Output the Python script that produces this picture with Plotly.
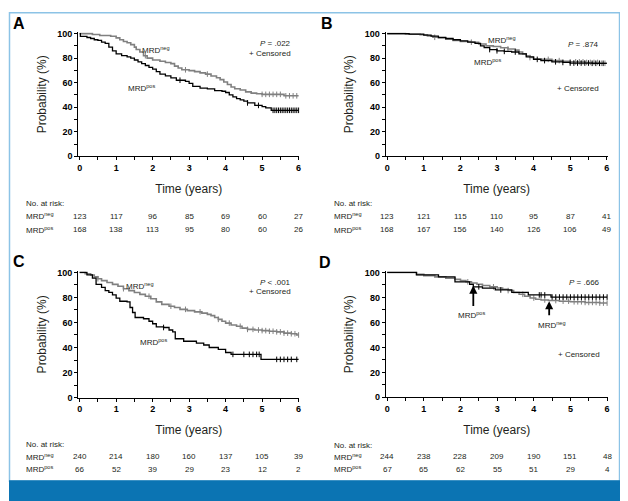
import plotly.graph_objects as go
import numpy as np

## the page puts the figure 8px in from the top left corner, so draw at 620x493 and shift
OFF = 8
W, H = 628 - OFF, 501 - OFF
FONT = "Arial, Liberation Sans, sans-serif"
GRAY = "#808080"
INK = "#231f20"

## Kaplan-Meier step data: (time in years, survival %)
a_neg_t = [0, 0.35, 0.55, 0.85, 1.0, 1.1, 1.2, 1.3, 1.4, 1.5, 1.55, 1.65, 1.75, 1.85, 2.0, 2.2, 2.35,
           2.5, 2.6, 2.7, 2.8, 3.0, 3.15, 3.3, 3.45, 3.6, 3.75, 3.85, 3.95, 4.05, 4.15, 4.25, 4.4,
           4.55, 4.7, 4.85, 5.0, 5.6]
a_neg_s = [100, 99.3, 98.5, 97.8, 96.5, 95, 93.5, 92.5, 91, 89, 87, 85, 82, 80, 78.5, 77.5, 76.5,
           75.5, 73.5, 72, 70.5, 69.8, 69, 68, 67, 65.5, 64, 62.5, 60.5, 58.5, 56.5, 55, 54,
           52.5, 51.5, 51, 50.5, 49.3]
a_pos_t = [0, 0.02, 0.2, 0.3, 0.4, 0.5, 0.6, 0.7, 0.8, 0.9, 1.0, 1.15, 1.3, 1.4, 1.5, 1.6, 1.7, 1.8,
           1.9, 2.0, 2.1, 2.2, 2.35, 2.5, 2.65, 2.9, 3.0, 3.1, 3.3, 3.5, 3.7, 3.9, 4.0, 4.1, 4.2,
           4.3, 4.4, 4.5, 4.6, 4.8, 5.0, 5.1, 5.25]
a_pos_s = [100, 97.8, 96.8, 96, 95, 94.5, 93, 92, 89, 86, 83.5, 82, 81, 80, 78.5, 77, 75.5, 74,
           72.5, 71, 69, 67, 65.5, 64, 62, 61, 59.5, 57, 55.5, 55, 53.5, 53, 52, 50, 48.5,
           47, 46, 45, 43.5, 41.5, 40.5, 39.5, 37.5]
a_neg_cens = [1.8, 2.9, 3.5, 5.0, 5.1, 5.2, 5.3, 5.4, 5.5, 5.65, 5.75, 5.85, 5.95]
a_pos_cens = [2.75, 4.6, 4.9, 5.3, 5.35, 5.4, 5.45, 5.5, 5.55, 5.6, 5.65, 5.7, 5.75, 5.8, 5.85,
              5.9, 5.95, 6.0]

b_neg_t = [0, 0.5, 0.9, 1.1, 1.25, 1.4, 1.6, 1.8, 2.0, 2.3, 2.5, 2.7, 2.9, 3.1, 3.3, 3.5, 3.6,
           3.7, 3.8, 3.9, 4.0, 4.2, 4.5, 4.8, 5.0, 5.4, 5.8]
b_neg_s = [100, 99.5, 99, 98, 97, 96.5, 95.5, 94.5, 93.5, 93, 91.5, 90, 89.5, 88.5, 87.5, 86.5,
           85, 83.5, 82, 80.5, 79.5, 79, 78, 77.5, 77, 76.5, 75.8]
b_pos_t = [0, 0.6, 1.0, 1.2, 1.4, 1.6, 1.8, 2.0, 2.2, 2.4, 2.55, 2.65, 2.8, 3.0, 3.2, 3.4, 3.6,
           3.8, 4.0, 4.2, 4.5, 4.8, 5.0, 5.6]
b_pos_s = [100, 99.5, 98.8, 98, 97, 96, 95, 94, 93, 92, 90, 88.5, 87, 86, 85.5, 85, 83.5, 81,
           79, 78, 77, 76.5, 76, 75.8]
b_neg_cens = [1.3, 2.3, 3.3, 3.9, 4.4, 4.7, 5.0, 5.15, 5.25, 5.35, 5.45, 5.55, 5.65, 5.75, 5.85,
              5.95]
b_pos_cens = [2.8, 3.0, 3.2, 3.5, 4.1, 4.3, 4.6, 4.8, 5.0, 5.1, 5.2, 5.3, 5.4, 5.5, 5.6, 5.7,
              5.8, 5.9]

c_neg_t = [0, 0.15, 0.3, 0.4, 0.5, 0.6, 0.75, 0.9, 1.05, 1.2, 1.35, 1.5, 1.65, 1.8, 1.95, 2.1,
           2.25, 2.45, 2.6, 2.75, 2.95, 3.15, 3.35, 3.5, 3.6, 3.7, 3.8, 3.9, 4.0, 4.15, 4.3, 4.45,
           4.6, 4.8, 5.0, 5.2, 5.4, 5.6, 5.8, 5.95]
c_neg_s = [100, 99, 98, 96.5, 95, 93.5, 92, 90.5, 89, 87, 85.5, 84, 82.5, 81, 79, 76.5, 74.5,
           73, 72, 70.5, 69.5, 68.5, 67.5, 66.5, 65.5, 64, 62.5, 61, 59.5, 58, 57, 55.5, 54.5,
           54, 53.5, 53, 52.5, 51.5, 51, 50]
c_pos_t = [0, 0.2, 0.35, 0.45, 0.6, 0.7, 0.8, 0.9, 1.0, 1.1, 1.3, 1.38, 1.45, 1.52, 1.75, 1.9,
           2.0, 2.1, 2.3, 2.45, 2.55, 2.62, 2.85, 3.2, 3.4, 3.55, 3.8, 4.0, 4.15, 4.97]
c_pos_s = [100, 98, 95.5, 90.5, 88, 85.5, 84, 82, 79.5, 77, 76.5, 72, 68, 64, 63, 61, 59, 56.5,
           56, 54, 52.5, 47, 45, 43.5, 42, 40, 38.5, 36, 34.5, 30.5]
c_neg_cens = [0.5, 1.2, 1.9, 2.5, 2.9, 3.3, 3.8, 4.1, 4.4, 4.6, 4.75, 4.9, 5.0, 5.1, 5.2, 5.3,
              5.4, 5.5, 5.6, 5.7, 5.8, 5.9, 6.0]
c_pos_cens = [2.3, 4.2, 4.5, 4.65, 4.75, 4.85, 4.92, 5.4, 5.5, 5.6, 5.7, 5.8, 5.95]

d_neg_t = [0, 0.8, 1.0, 1.3, 1.6, 1.85, 2.0, 2.15, 2.3, 2.45, 2.6, 2.8, 3.0, 3.15, 3.3, 3.45,
           3.6, 3.75, 3.9, 4.05, 4.2, 4.4, 4.7, 5.0, 5.4, 5.8]
d_neg_s = [100, 98.5, 97.5, 96.5, 95.5, 94.5, 93.5, 92.5, 91.5, 90.5, 89.5, 88.5, 87.5, 86.5,
           85.5, 84, 82.5, 81, 79.5, 78.5, 78, 77.5, 77, 76.5, 76, 75.5]
d_pos_t = [0, 0.8, 1.4, 1.85, 2.25, 2.35, 2.6, 2.95, 3.4, 3.85, 4.47]
d_pos_s = [100, 98, 96.5, 92.5, 90.5, 88.5, 87.5, 86, 84, 82, 80.3]
d_neg_cens = [2.2, 2.9, 3.3, 3.7, 4.0, 4.3, 4.6, 4.8, 4.95, 5.1, 5.2, 5.3, 5.4, 5.5, 5.6, 5.7,
              5.8, 5.9, 6.0]
d_pos_cens = [2.5, 3.1, 4.15, 4.2, 4.3, 4.5, 4.6, 4.7, 4.8, 4.9, 5.0, 5.1, 5.2, 5.3, 5.4, 5.5,
              5.6, 5.7, 5.8, 5.9, 6.0]

## Numbers at risk
risk_times = [0, 1, 2, 3, 4, 5, 6]
a_risk_neg = [123, 117, 96, 85, 69, 60, 27]
a_risk_pos = [168, 138, 113, 95, 80, 60, 26]
b_risk_neg = [123, 121, 115, 110, 95, 87, 41]
b_risk_pos = [168, 167, 156, 140, 126, 106, 49]
c_risk_neg = [240, 214, 180, 160, 137, 105, 39]
c_risk_pos = [66, 52, 39, 29, 23, 12, 2]
d_risk_neg = [244, 238, 228, 209, 190, 151, 48]
d_risk_pos = [67, 65, 62, 55, 51, 29, 4]

p_texts = ["<i>P</i> = .022", "<i>P</i> = .874", "<i>P</i> < .001", "<i>P</i> = .666"]

panels = [
    dict(letter="A", neg=(a_neg_t, a_neg_s, a_neg_cens), pos=(a_pos_t, a_pos_s, a_pos_cens),
         risk=(a_risk_neg, a_risk_pos), p=p_texts[0],
         px=(79, 299), py=(155, 30), rows=(203, 216, 230), lab_x=23, let=(18, 20),
         neg_lab=(2.1, 87), pos_lab=(1.7, 56), p_y=92, cens_y=84),
    dict(letter="B", neg=(b_neg_t, b_neg_s, b_neg_cens), pos=(b_pos_t, b_pos_s, b_pos_cens),
         risk=(b_risk_neg, b_risk_pos), p=p_texts[1],
         px=(388, 608.7), py=(155, 30), rows=(203, 216, 230), lab_x=333, let=(328, 20),
         neg_lab=(3.15, 95), pos_lab=(2.75, 77), p_y=91, cens_y=55),
    dict(letter="C", neg=(c_neg_t, c_neg_s, c_neg_cens), pos=(c_pos_t, c_pos_s, c_pos_cens),
         risk=(c_risk_neg, c_risk_pos), p=p_texts[2],
         px=(79, 299), py=(400.7, 273.3), rows=(449, 461, 474), lab_x=23, let=(18, 262),
         neg_lab=(1.66, 89.5), pos_lab=(2.02, 44.5), p_y=92, cens_y=85),
    dict(letter="D", neg=(d_neg_t, d_neg_s, d_neg_cens), pos=(d_pos_t, d_pos_s, d_pos_cens),
         risk=(d_risk_neg, d_risk_pos), p=p_texts[3],
         px=(388, 609), py=(400.5, 273.3), rows=(450, 461, 474), lab_x=333, let=(326, 263),
         neg_lab=None, pos_lab=None, p_y=92, cens_y=34),
]

X_RANGE = [-0.04, 6.02]
Y_RANGE = [0, 101]


def pxx(x):
    return (x - OFF) / W


def pxy(y):
    return 1 - (y - OFF) / H


def step_value(times, surv, t):
    i = np.searchsorted(np.array(times), t, side="right") - 1
    return surv[max(i, 0)]


fig = go.Figure()
annotations = []
shapes = []


def note(text, x, y, xref, yref, xanchor="center", size=8):
    annotations.append(dict(text=text, x=x, y=y, xref=xref, yref=yref, xanchor=xanchor, yanchor="middle",
                            showarrow=False, font=dict(family=FONT, size=size, color=INK)))


for k, pn in enumerate(panels):
    n = "" if k == 0 else str(k + 1)
    xa, ya = "x" + n, "y" + n
    x0, x6 = pn["px"]
    yb, yt = pn["py"]
    ppy = (x6 - x0) / 6.0
    ppu = (yb - yt) / 100.0
    xdom = [pxx(x0 + X_RANGE[0] * ppy), pxx(x6 + (X_RANGE[1] - 6) * ppy)]
    ydom = [pxy(yb), pxy(yb - Y_RANGE[1] * ppu)]

    for key, col, width in [("neg", GRAY, 1.6), ("pos", "black", 1.3)]:
        t, s, cens = pn[key]
        tt = list(t) + [6.0]
        ss = list(s) + [s[-1]]
        fig.add_trace(go.Scatter(x=tt, y=ss, mode="lines", line=dict(color=col, width=width, shape="hv"),
                                 xaxis=xa, yaxis=ya, showlegend=False, hoverinfo="skip"))
        cy = [step_value(t, s, c) for c in cens]
        fig.add_trace(go.Scatter(x=cens, y=cy, mode="markers", cliponaxis=False,
                                 marker=dict(symbol="line-ns-open", size=4, color=col,
                                             line=dict(color=col, width=1)),
                                 xaxis=xa, yaxis=ya, showlegend=False, hoverinfo="skip"))

    axis_common = dict(showline=True, linecolor="black", linewidth=1, ticks="outside", ticklen=3,
                       tickcolor="black", showgrid=False, zeroline=False, fixedrange=True,
                       tickfont=dict(family=FONT, size=9, color="black", weight="bold"))
    fig.update_layout({
        "xaxis" + n: dict(axis_common, domain=xdom, range=X_RANGE, tickvals=risk_times,
                          minor=dict(dtick=0.5, tick0=0, ticks="outside", ticklen=3, tickcolor="black"),
                          anchor=ya,
                          title=dict(text="Time (years)", font=dict(family=FONT, size=12, color=INK), standoff=12)),
        "yaxis" + n: dict(axis_common, domain=ydom, range=Y_RANGE, tickvals=[0, 20, 40, 60, 80, 100],
                          minor=dict(dtick=10, tick0=0, ticks="outside", ticklen=3, tickcolor="black"),
                          anchor=xa,
                          title=dict(text="Probability (%)", font=dict(family=FONT, size=12, color=INK), standoff=8)),
    })

    # panel letter
    lx, ly = pn["let"]
    annotations.append(dict(text="<b>%s</b>" % pn["letter"], x=pxx(lx), y=pxy(ly), xref="paper", yref="paper",
                            xanchor="center", yanchor="middle", showarrow=False,
                            font=dict(family=FONT, size=16, color="black")))
    # P value and censor legend
    note(pn["p"], 5.85, pn["p_y"], xa, ya, xanchor="right")
    note("+ Censored", 5.85, pn["cens_y"], xa, ya, xanchor="right")
    # curve labels
    if pn["neg_lab"]:
        note("MRD<sup>neg</sup>", pn["neg_lab"][0], pn["neg_lab"][1], xa, ya)
        note("MRD<sup>pos</sup>", pn["pos_lab"][0], pn["pos_lab"][1], xa, ya)
    else:
        for hx, hy, ty in [(2.35, 89.5, 72), (4.42, 77, 64.5)]:
            annotations.append(dict(text="", x=hx, y=hy, ax=hx, ay=ty, xref=xa, yref=ya, axref=xa, ayref=ya,
                                    showarrow=True, arrowhead=2, arrowsize=0.9, arrowwidth=1.8,
                                    arrowcolor="black"))
        note("MRD<sup>pos</sup>", 2.3, 66, xa, ya)
        note("MRD<sup>neg</sup>", 4.5, 58, xa, ya)

    # risk table
    r0, r1, r2 = pn["rows"]
    note("No. at risk:", pxx(pn["lab_x"]), pxy(r0), "paper", "paper", xanchor="left")
    for row_y, name, vals in [(r1, "MRD<sup>neg</sup>", pn["risk"][0]), (r2, "MRD<sup>pos</sup>", pn["risk"][1])]:
        note(name, pxx(pn["lab_x"]), pxy(row_y), "paper", "paper", xanchor="left")
        for t, v in zip(risk_times, vals):
            note(str(v), t, pxy(row_y), xa, "paper")

# frame and bottom bar
shapes.append(dict(type="rect", xref="paper", yref="paper", x0=pxx(8.5), x1=pxx(621.5), y0=pxy(486),
                   y1=pxy(8.8), line=dict(color="#8cc3e6", width=1.5), fillcolor="rgba(0,0,0,0)",
                   layer="below"))
shapes.append(dict(type="rect", xref="paper", yref="paper", x0=0, x1=1, y0=-0.1, y1=pxy(485),
                   line=dict(width=0), fillcolor="#0b74b3"))

fig.update_layout(width=W, height=H, margin=dict(l=0, r=0, t=0, b=0), paper_bgcolor="white",
                  plot_bgcolor="white", annotations=annotations, shapes=shapes,
                  font=dict(family=FONT, color=INK))

fig.write_html("out.html")
